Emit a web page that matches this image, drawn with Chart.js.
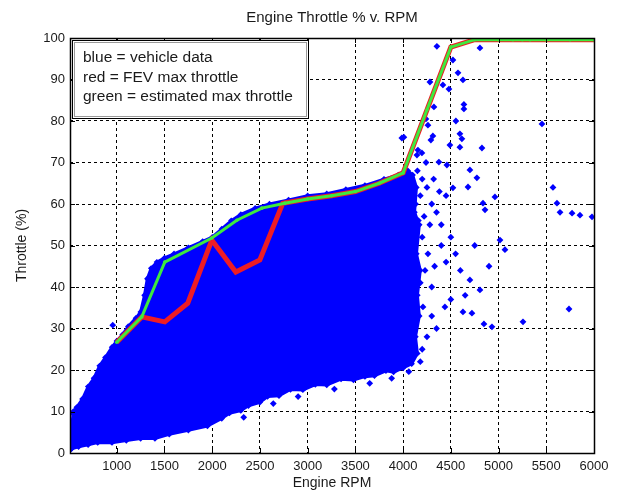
<!DOCTYPE html>
<html>
<head>
<meta charset="utf-8">
<script src="https://cdn.jsdelivr.net/npm/chart.js@4.4.0/dist/chart.umd.min.js"></script>
<style>
  html, body { margin: 0; padding: 0; background: #fff; }
</style>
</head>
<body>
<canvas id="graphC" width="617" height="495"></canvas>
<script>
// axis ticks
var xTicks = [1000, 1500, 2000, 2500, 3000, 3500, 4000, 4500, 5000, 5500, 6000];
var yTicks = [0, 10, 20, 30, 40, 50, 60, 70, 80, 90, 100];
var xMin = 510, xMax = 6000;

// outline of the dense blue vehicle data cloud (rpm, throttle %)
var cloudRpm = [525, 525, 545, 580, 640, 700, 760, 820, 880, 950, 1000, 1060, 1120, 1200, 1250, 1290, 1320, 1360, 1420, 1500, 1600, 1750, 1900, 2000, 2100, 2200, 2300, 2450, 2600, 2800, 3000, 3200, 3400, 3600, 3800, 3950, 4050,
  4100, 4140, 4120, 4170, 4140, 4180, 4150, 4170, 4130, 4150, 4090,
  4000, 3900, 3820, 3700, 3600, 3480, 3350, 3200, 3080, 2950, 2820, 2700, 2580, 2500, 2380, 2300, 2180, 2100, 1950, 1750, 1550, 1400, 1250, 1100, 950, 800, 700, 600, 525];
var cloudThrottle = [1, 6, 10, 11, 13, 16, 18, 21, 23, 25.5, 27, 28.5, 30.5, 32.5, 34, 38, 42, 44.5, 46, 47, 48, 49.5, 51, 52, 54, 56, 57.5, 59, 60, 61, 62, 62.5, 63.5, 64.5, 66, 67, 68,
  67, 64, 58, 55, 48, 44, 38, 33, 28, 24, 21.5,
  20.5, 19.5, 19.8, 18.6, 18.4, 17.6, 17.8, 16.4, 16.5, 15.2, 15.3, 13.8, 13.6, 12.2, 11.4, 10.2, 9.6, 8.3, 6.5, 5.5, 4.5, 3.5, 3.5, 3, 2.5, 2.5, 2, 1.5, 1];

// scattered vehicle data points outside the cloud
var dotRpm = [4354, 4805, 4522, 4575, 4627, 4281, 4417, 4480, 4637, 4637, 4323, 4553, 4239, 4260, 5455, 3987, 4008, 4595, 4616, 4312, 4291, 4490, 4595, 4826, 4155, 4197, 4145, 4375, 4459, 4700, 4773, 5570, 4522, 4680, 5612, 5644, 5770, 5853, 5979, 4837, 4858, 4962,
  4150, 4200, 4250, 4180, 4300, 4350, 4220, 4400, 4280, 4130, 4160, 4240, 4320, 4450, 4380, 4200, 4260, 4330, 4230, 4180, 4300, 4400, 4450, 4500, 4550,
  5015, 5067, 4700, 4805, 4900, 4750, 4600, 4650,
  5738, 5256, 4931, 4847, 4627, 4721, 4438, 4208, 4124, 4350, 4250, 4200, 4300, 4180, 4500,
  958, 1136, 539, 560,
  2330, 2640, 2900, 3280, 3650, 3880, 4060];
var dotThrottle = [98, 97.6, 94.7, 91.6, 89.9, 89.4, 88.7, 87.7, 84, 82.9, 83.4, 80, 80.5, 79, 79.3, 75.9, 76.1, 76.9, 75.7, 76.4, 75.4, 74.2, 73.7, 73.5, 73, 72.3, 71.8, 70.1, 69.4, 68.2, 66.3, 64, 63.9, 64.1, 60.2, 58, 57.8, 57.3, 56.9, 60.2, 58.6, 61.7,
  68, 66, 64, 62, 60, 58, 57, 55, 55, 60, 56, 70, 66, 62, 63, 52, 48, 45, 44, 41, 40, 50, 46, 52, 48,
  51.3, 49, 41.7, 39.3, 45, 50, 44, 38,
  34.7, 31.6, 30.4, 31.1, 34, 33.7, 35.2, 35.2, 35.2, 30, 28, 25, 33, 22, 37,
  30.8, 24.8, 9.6, 8,
  8.6, 11.9, 13.6, 15.4, 16.8, 18.0, 19.6];

// FEV max throttle (red)
var redRpm = [1000, 1262, 1503, 1744, 1996, 2247, 2499, 2740, 3000, 3250, 3500, 3750, 4000, 4250, 4500, 4750, 5000, 5250, 5500, 5750, 6000];
var redThrottle = [26.7, 32.8, 31.6, 36.1, 51.3, 43.6, 46.5, 60.2, 61.2, 62, 63, 65, 67.5, 82.7, 97.8, 99.6, 99.6, 99.6, 99.6, 99.6, 99.6];

// estimated max throttle (green)
var greenRpm = [1000, 1262, 1503, 1996, 2258, 2520, 2761, 3000, 3250, 3500, 3750, 4000, 4250, 4500, 4750, 5000, 5150, 5250, 5330, 5500, 5750, 6000];
var greenThrottle = [26.7, 32.8, 46, 51.8, 56.1, 59, 60.2, 61.2, 62, 63, 65, 67.5, 82.7, 97.8, 99.6, 99.6, 99.6, 99.6, 99.6, 99.6, 99.6, 99.6];

var chartTitle = "Engine Throttle % v. RPM";
var noteLines = ["blue = vehicle data", "red = FEV max throttle", "green = estimated max throttle"];

function toPoints(xs, ys) {
    var out = [];
    for (var i = 0; i < xs.length; i++) {
        out.push({ x: xs[i], y: ys[i] });
    }
    return out;
}

var fontFamily = "'Liberation Sans', Arial, sans-serif";
var textColor = "#1a1a1a";
var blue = "#0000ff";

// box round the plot plus small inward tick marks, like matlab
var framePlugin = {
    id: 'frame',
    afterDatasetsDraw: function (chart) {
        var c = chart.ctx;
        var a = chart.chartArea;
        var xs = chart.scales.x, ys = chart.scales.y;
        c.save();
        c.strokeStyle = "#000";
        c.lineWidth = 1;
        c.beginPath();
        xTicks.forEach(function (v) {
            var px = Math.round(xs.getPixelForValue(v)) + 0.5;
            c.moveTo(px, a.bottom); c.lineTo(px, a.bottom - 5);
            c.moveTo(px, a.top); c.lineTo(px, a.top + 5);
        });
        yTicks.forEach(function (v) {
            var py = Math.round(ys.getPixelForValue(v)) + 0.5;
            c.moveTo(a.left, py); c.lineTo(a.left + 5, py);
            c.moveTo(a.right, py); c.lineTo(a.right - 5, py);
        });
        c.stroke();
        c.lineWidth = 1.5;
        c.strokeRect(Math.round(a.left) + 0.5, Math.round(a.top) + 0.5, Math.round(a.right - a.left), Math.round(a.bottom - a.top));
        c.restore();
    },
    afterDraw: function (chart) {
        var c = chart.ctx;
        var a = chart.chartArea;
        c.save();
        // title centred over the plot
        c.fillStyle = textColor;
        c.font = "15px " + fontFamily;
        c.textAlign = "center";
        c.textBaseline = "middle";
        c.fillText(chartTitle, (a.left + a.right) / 2, 18);

        // the text box in the top left corner
        var bx = Math.round(a.left) + 2, by = Math.round(a.top) + 2, bw = 236, bh = 78;
        c.fillStyle = "#fff";
        c.fillRect(bx, by, bw, bh);
        c.strokeStyle = "#000";
        c.lineWidth = 1;
        c.strokeRect(bx + 0.5, by + 0.5, bw, bh);
        c.strokeStyle = "#9a9a9a";
        c.strokeRect(bx + 2.5, by + 2.5, bw - 4, bh - 4);
        c.fillStyle = textColor;
        c.font = "15.5px " + fontFamily;
        c.textAlign = "left";
        for (var i = 0; i < noteLines.length; i++) {
            c.fillText(noteLines[i], bx + 11, by + 18 + i * 19.5);
        }
        c.restore();
    }
};

var ctx = document.getElementById("graphC").getContext('2d');
var myChart = new Chart(ctx, {
    type: 'scatter',
    data: {
        datasets: [{
            label: "estimated max throttle",
            data: toPoints(greenRpm, greenThrottle),
            showLine: true,
            borderColor: "#3eea3e",
            borderWidth: 3,
            pointRadius: 1.8,
            pointBackgroundColor: "#3eea3e",
            pointBorderWidth: 0,
            order: 0
        }, {
            label: "FEV max throttle",
            data: toPoints(redRpm, redThrottle),
            showLine: true,
            borderColor: "#ee1c24",
            borderWidth: 5,
            pointRadius: 0,
            order: 1
        }, {
            label: "vehicle data",
            data: toPoints(dotRpm, dotThrottle),
            pointStyle: 'rectRot',
            pointRadius: 3.4,
            pointBackgroundColor: blue,
            pointBorderWidth: 0,
            order: 2
        }, {
            label: "vehicle data cloud",
            data: toPoints(cloudRpm, cloudThrottle),
            showLine: true,
            fill: 'shape',
            backgroundColor: blue,
            borderColor: blue,
            borderWidth: 3,
            pointStyle: 'rectRot',
            pointRadius: 3.2,
            pointBackgroundColor: blue,
            pointBorderWidth: 0,
            order: 3
        }]
    },
    options: {
        responsive: false,
        animation: false,
        layout: { padding: { left: 0, right: 23, top: 38, bottom: 0 } },
        plugins: {
            legend: { display: false },
            tooltip: { enabled: false },
            title: { display: false }
        },
        scales: {
            x: {
                type: 'linear',
                min: xMin,
                max: xMax,
                afterBuildTicks: function (scale) {
                    scale.ticks = xTicks.map(function (v) { return { value: v }; });
                },
                afterFit: function (scale) { scale.height = 42; },
                grid: { color: "#000", lineWidth: 1, drawTicks: false },
                border: { display: false, dash: [3, 3] },
                ticks: {
                    color: textColor,
                    padding: 6,
                    maxRotation: 0,
                    autoSkip: false,
                    font: { family: fontFamily, size: 13 },
                    callback: function (v) { return String(v); }
                },
                title: {
                    display: true,
                    text: "Engine RPM",
                    color: textColor,
                    font: { family: fontFamily, size: 14 },
                    padding: { top: 0, bottom: 3 }
                }
            },
            y: {
                type: 'linear',
                min: 0,
                max: 100,
                afterBuildTicks: function (scale) {
                    scale.ticks = yTicks.map(function (v) { return { value: v }; });
                },
                afterFit: function (scale) { scale.width = 70; },
                grid: { color: "#000", lineWidth: 1, drawTicks: false },
                border: { display: false, dash: [3, 3] },
                ticks: {
                    color: textColor,
                    padding: 5,
                    autoSkip: false,
                    font: { family: fontFamily, size: 13 },
                    callback: function (v) { return String(v); }
                },
                title: {
                    display: true,
                    text: "Throttle (%)",
                    color: textColor,
                    font: { family: fontFamily, size: 14 },
                    padding: { top: 14, bottom: 0 }
                }
            }
        }
    },
    plugins: [framePlugin]
});
</script>
</body>
</html>
